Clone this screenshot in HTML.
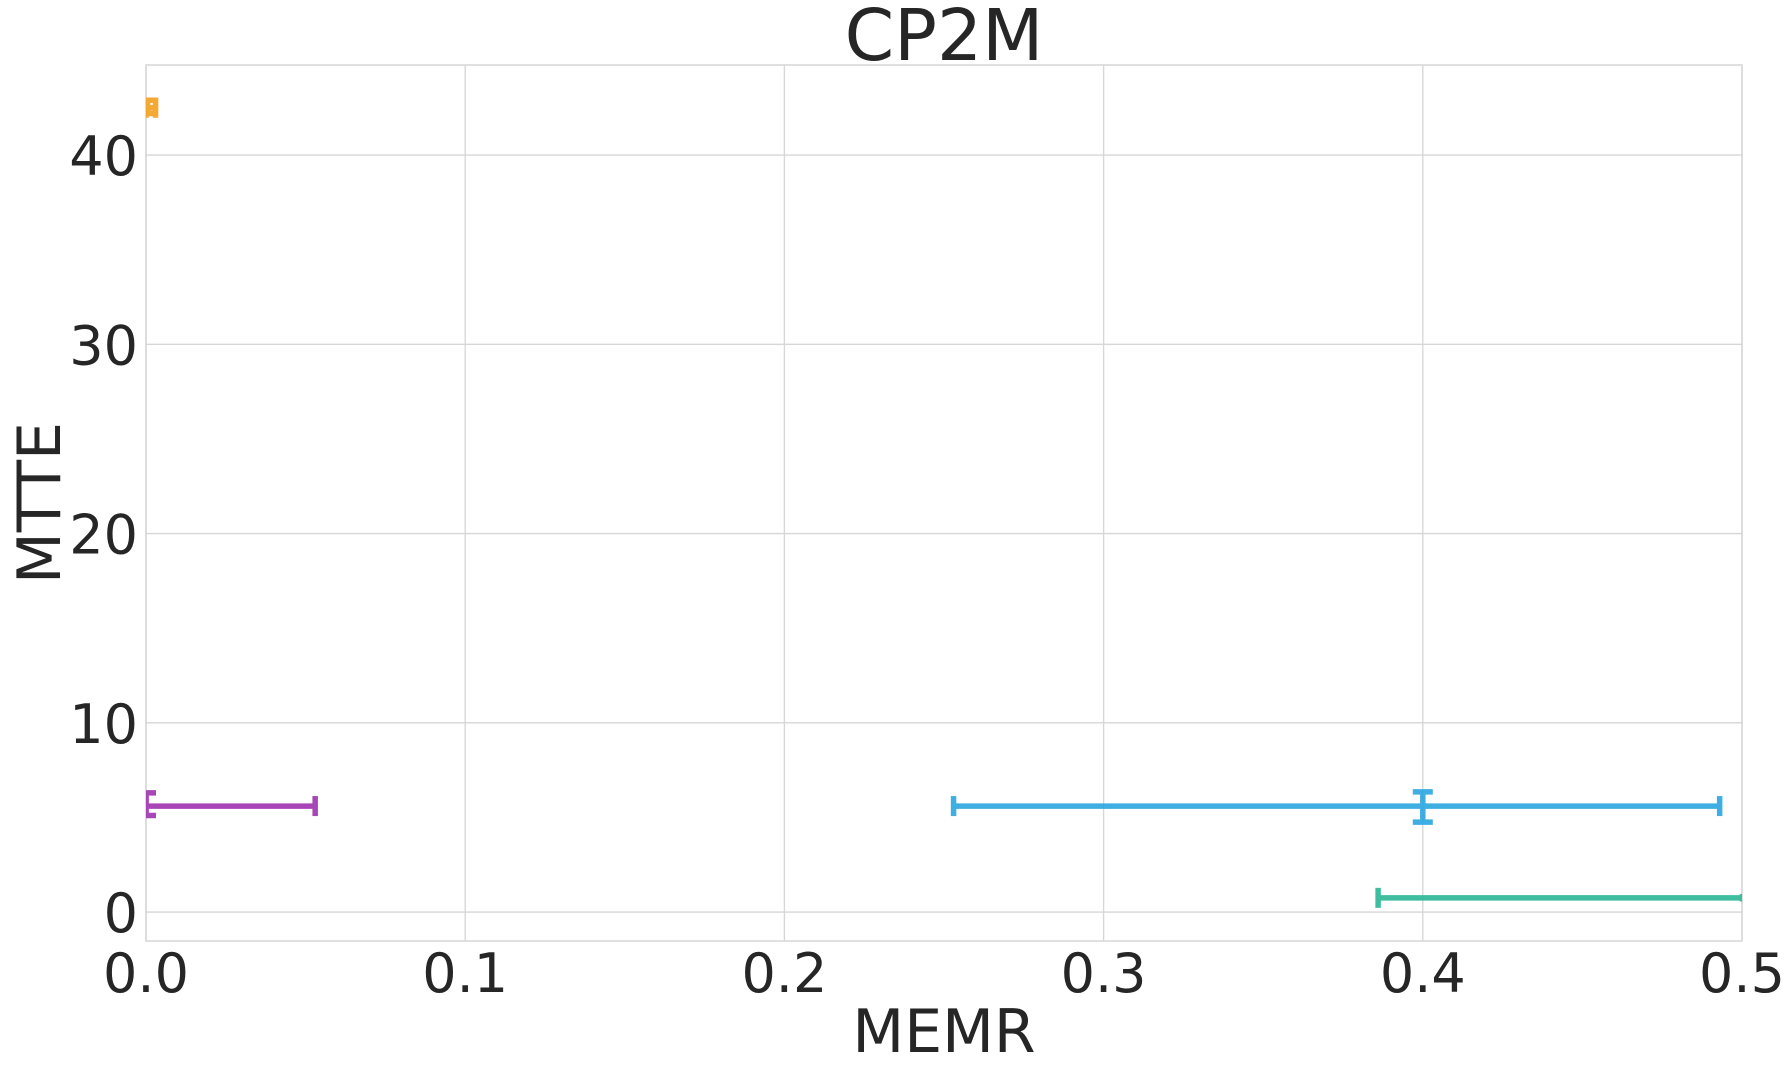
<!DOCTYPE html>
<html><head><meta charset="utf-8"><style>body{margin:0;background:#fff}svg{display:block}</style></head>
<body>
<svg id="chart" width="1792" height="1072" xmlns="http://www.w3.org/2000/svg" font-family="'DejaVu Sans','Liberation Sans',sans-serif" fill="#262626">
<g id="grid"></g>
<g id="marks"></g>
<g id="ticks"></g>
<text x="944" y="60" font-size="71" text-anchor="middle">CP2M</text>
<text x="944" y="1052" font-size="60" text-anchor="middle">MEMR</text>
<text transform="translate(60,503) rotate(-90)" font-size="60" text-anchor="middle">MTTE</text>
</svg>
<script>
const xTicks=[0,0.1,0.2,0.3,0.4,0.5];
const xTickLabels=["0.0","0.1","0.2","0.3","0.4","0.5"];
const yTicks=[0,10,20,30,40];
const yTickLabels=["0","10","20","30","40"];
const seriesNames=["orange","purple","blue","teal"];
const seriesColors=["#f5a020","#a033b0","#2aa6e0","#2ab895"];
const xVals=[0.0005,0.0,0.4,0.5];
const yVals=[42.5,5.6,5.6,0.75];
const xLo=[0.0,0.0,0.253,0.386];
const xHi=[0.003,0.053,0.493,0.52];
const yLo=[42.2,5.1,4.75,0.75];
const yHi=[42.9,6.3,6.35,0.75];
const L=146,R=1742,T=65,B=941,xmin=0,xmax=0.5,ymin=-1.53,ymax=44.76;
const X=v=>L+(v-xmin)/(xmax-xmin)*(R-L);
const Y=v=>B-(v-ymin)/(ymax-ymin)*(B-T);
const NS="http://www.w3.org/2000/svg";
function mk(p,t,a){const e=document.createElementNS(NS,t);for(const k in a)e.setAttribute(k,a[k]);p.appendChild(e);return e;}
const g=document.getElementById('grid'),m=document.getElementById('marks'),tk=document.getElementById('ticks');
xTicks.forEach((v,i)=>{const l=mk(g,'line',{x1:X(v),x2:X(v),y1:T,y2:B,stroke:'#d6d6d6','stroke-width':1.3});

const t=mk(tk,'text',{x:X(v),y:992,'font-size':54,'text-anchor':'middle'});t.textContent=xTickLabels[i];
});
yTicks.forEach((v,i)=>{const l=mk(g,'line',{x1:L,x2:R,y1:Y(v),y2:Y(v),stroke:'#d6d6d6','stroke-width':1.3});

const t=mk(tk,'text',{x:138,y:Y(v)+20,'font-size':54,'text-anchor':'end'});t.textContent=yTickLabels[i];
});
const fr=mk(g,'rect',{x:L,y:T,width:R-L,height:B-T,fill:'none',stroke:'#d6d6d6','stroke-width':1.5});

mk(document.querySelector('svg'),'clipPath',{id:'cp'}).appendChild(document.createElementNS(NS,'rect'));
const cr=document.querySelector('#cp rect');cr.setAttribute('x',L);cr.setAttribute('y',T);cr.setAttribute('width',R-L);cr.setAttribute('height',B-T);
m.setAttribute('clip-path','url(#cp)');
seriesNames.forEach((n,i)=>{const c=seriesColors[i];const gg=mk(m,'g',{stroke:c,'stroke-width':5.5,fill:c,opacity:0.9});

const y=Y(yVals[i]),x=X(xVals[i]);
mk(gg,'line',{x1:X(xLo[i]),x2:X(xHi[i]),y1:y,y2:y});
mk(gg,'line',{x1:X(xLo[i]),x2:X(xLo[i]),y1:y-10,y2:y+10});
mk(gg,'line',{x1:X(xHi[i]),x2:X(xHi[i]),y1:y-10,y2:y+10});
if(yHi[i]>yLo[i]){mk(gg,'line',{x1:x,x2:x,y1:Y(yLo[i]),y2:Y(yHi[i])});
mk(gg,'line',{x1:x-10,x2:x+10,y1:Y(yLo[i]),y2:Y(yLo[i])});
mk(gg,'line',{x1:x-10,x2:x+10,y1:Y(yHi[i]),y2:Y(yHi[i])});}
mk(gg,'circle',{cx:x,cy:y,r:4,stroke:'none'});});
</script>
</body></html>
